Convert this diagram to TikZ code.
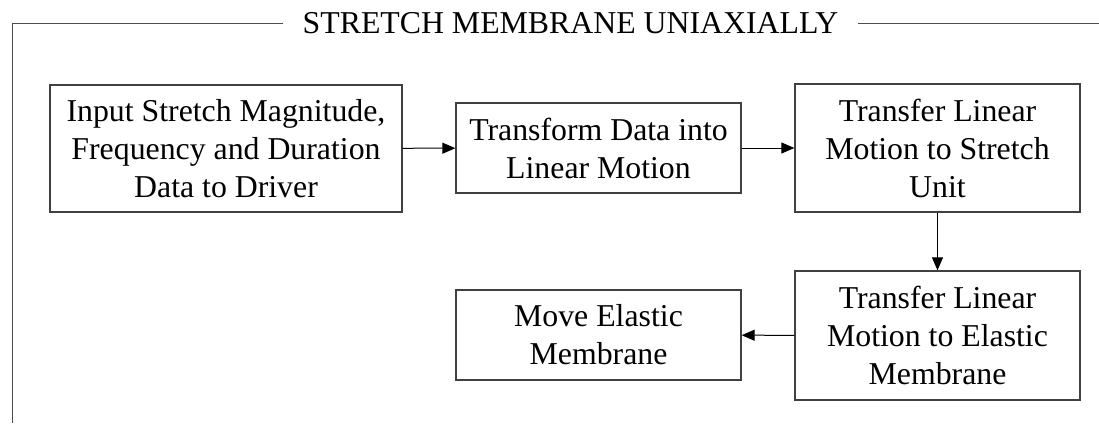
\documentclass[tikz,border=0pt]{standalone}
\usepackage{fontspec}
\setmainfont{Liberation Serif}
\usetikzlibrary{arrows.meta}
\begin{document}
\begin{tikzpicture}[x=1pt,y=-1pt,
  box/.style={draw=black!75,line width=1.3pt,inner sep=0pt,align=center,
    font=\fontsize{31.8}{38}\selectfont},
  conn/.style={draw=black,line width=1pt,-{Triangle[length=13pt,width=11pt]}},
  frame/.style={draw=black!70,line width=1pt}]
\useasboundingbox (0,0) rectangle (1099,423);
\node[inner xsep=19pt,inner ysep=0pt,font=\fontsize{31.8}{38}\selectfont] (title) at (570.5,23) {STRETCH MEMBRANE UNIAXIALLY};
\coordinate (tl) at (12,23);
\coordinate (bl) at (12,423);
\coordinate (tr) at (1099,23);
\draw[frame] (title.west |- tl) -- (tl) -- (bl);
\draw[frame] (title.east |- tr) -- (tr);
\node[box,minimum width=352pt,minimum height=127pt] (b1) at (226,148.5) {Input Stretch Magnitude,\\Frequency and Duration\\Data to Driver};
\node[box,minimum width=285pt,minimum height=90pt] (b2) at (598.5,148) {Transform Data into\\Linear Motion};
\node[box,minimum width=285pt,minimum height=128pt] (b3) at (937.5,148) {Transfer Linear\\Motion to Stretch\\Unit};
\node[box,minimum width=285pt,minimum height=129pt] (b4) at (937.5,335.5) {Transfer Linear\\Motion to Elastic\\Membrane};
\node[box,minimum width=285pt,minimum height=90pt] (b5) at (598.5,335) {Move Elastic\\Membrane};
\draw[conn] (b1) -- (b2);
\draw[conn] (b2) -- (b3);
\draw[conn] (b3) -- (b4);
\draw[conn] (b4) -- (b5);
\end{tikzpicture}
\end{document}
